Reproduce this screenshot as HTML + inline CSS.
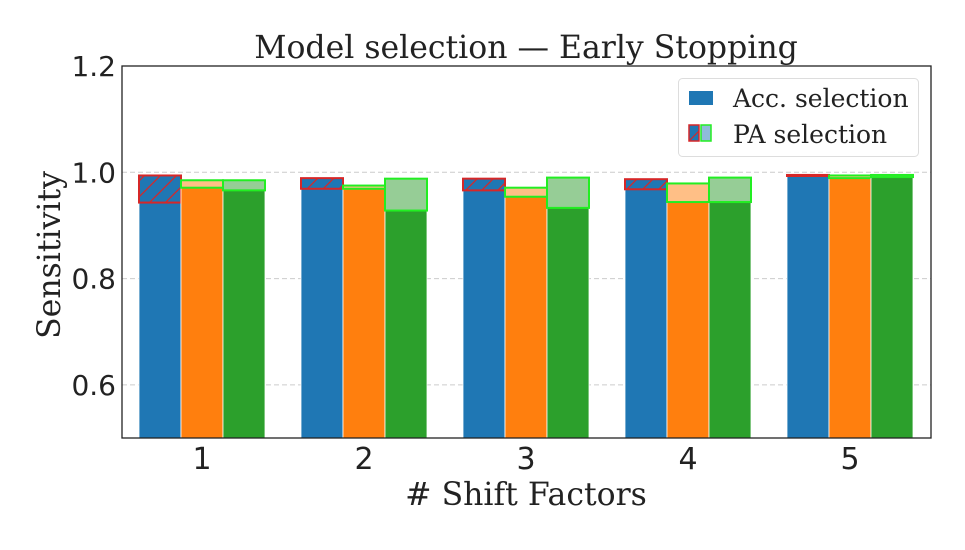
<!DOCTYPE html>
<html><head><meta charset="utf-8"><style>
body{margin:0;background:#fff}
svg text{fill:#222}
.serif{font-family:"DejaVu Serif","Liberation Serif",serif}
.sans{font-family:"DejaVu Sans","Liberation Sans",sans-serif}
</style></head><body>
<svg id="c" width="965" height="545" xmlns="http://www.w3.org/2000/svg">
<defs><pattern id="hatch" patternUnits="userSpaceOnUse" width="16" height="16">
<path d="M-4,4 L4,-4 M0,16 L16,0 M12,20 L20,12" stroke="#d62728" stroke-width="1.3"/></pattern></defs>
</svg>
<script>
const categories=[1,2,3,4,5];
const accBlue=[0.994,0.989,0.988,0.987,0.995];
const paBlue=[0.943,0.969,0.966,0.968,0.993];
const accOrange=[0.971,0.969,0.954,0.944,0.989];
const paOrange=[0.985,0.975,0.971,0.979,0.994];
const accGreen=[0.966,0.928,0.933,0.944,0.991];
const paGreen=[0.985,0.988,0.990,0.990,0.995];
const yTicks=[0.6,0.8,1.0,1.2];
const NS="http://www.w3.org/2000/svg";
const svg=document.getElementById('c');
const L=122,R=931,T=66,B=438;
const y=v=>B-(v-0.5)*(B-T)/0.7;
const x=c=>202+(c-1)*162;
const bw=42;
function mk(t,a){const e=document.createElementNS(NS,t);for(const k in a)e.setAttribute(k,a[k]);svg.appendChild(e);return e;}
yTicks.forEach(v=>{
 if(v<1.2){const g=mk('line',{x1:L,x2:R,y1:y(v),y2:y(v),stroke:'#ccc','stroke-dasharray':'5,3','stroke-width':1});
 
 }
 const t=mk('text',{x:L-6,y:y(v)+10,'text-anchor':'end','font-size':28,class:'sans'});t.textContent=v.toFixed(1);
 
 
});
const series=[[accBlue,paBlue,'#1f77b4',-1,'#d62728',true,''],[accOrange,paOrange,'#ff7f0e',0,'#22ee22',false,'#ffbf86'],[accGreen,paGreen,'#2ca02c',1,'#22ee22',false,'#96cd96']];
series.forEach((s,si)=>{
 categories.forEach((c,i)=>{
  const a=s[0][i],p=s[1][i];
  const bx=x(c)+s[3]*bw-bw/2;
  const top=s[5]?Math.max(a,p):a;
  const r=mk('rect',{x:bx,y:y(top),width:bw,height:B-y(top),fill:s[2],stroke:'#fff','stroke-width':0.8});
  
  
  const hi=Math.max(a,p),lo=Math.min(a,p);
  const o=mk('rect',{x:bx,y:y(hi),width:bw,height:y(lo)-y(hi),fill:s[5]?'url(#hatch)':s[6],stroke:s[4],'stroke-width':2});
  
  
 });
});
categories.forEach(c=>{
 const t=mk('text',{x:x(c),y:469,'text-anchor':'middle','font-size':30,class:'sans'});t.textContent=c;
 
 
});
const fr=mk('rect',{x:L,y:T,width:R-L,height:B-T,fill:'none',stroke:'#222','stroke-width':1.3});


</script>
<svg width="965" height="545" style="position:absolute;left:0;top:0">
<text class="serif" x="526" y="58" text-anchor="middle" font-size="31.5">Model selection — Early Stopping</text>
<text class="serif" x="526" y="505" text-anchor="middle" font-size="31.5">#&#160;Shift Factors</text>
<text class="serif" transform="translate(60,255) rotate(-90)" text-anchor="middle" font-size="31.5">Sensitivity</text>
<g>
<rect x="678.5" y="78.5" width="240" height="78" rx="4" fill="#fff" fill-opacity="0.85" stroke="#ddd"/>
<rect x="689" y="91" width="24" height="14" fill="#1f77b4"/>
<text class="serif" x="733" y="107" font-size="25">Acc. selection</text>
<rect x="689" y="125" width="10" height="16" fill="#1f77b4" stroke="#d62728" stroke-width="1.5"/>
<line x1="689" y1="141" x2="699" y2="131" stroke="#d62728" stroke-width="1.2"/>
<rect x="701" y="125" width="10" height="16" fill="#8fbbdb" stroke="#22ee22" stroke-width="1.5"/>
<text class="serif" x="733" y="143" font-size="25">PA selection</text>
</g>
</svg>
</body></html>
